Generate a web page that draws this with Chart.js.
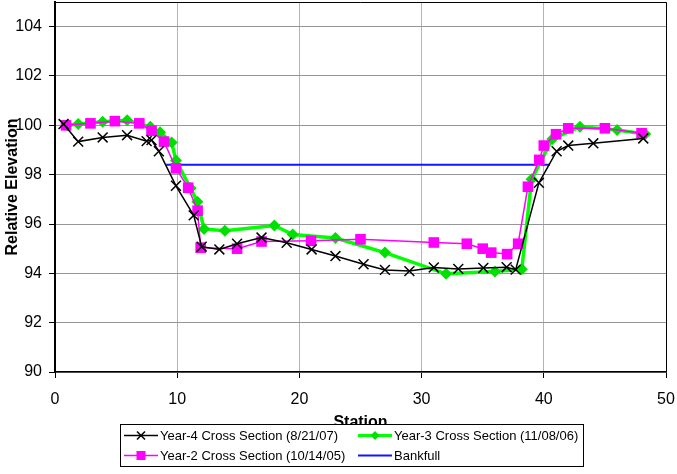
<!DOCTYPE html>
<html><head><meta charset="utf-8">
<script src="https://cdn.jsdelivr.net/npm/chart.js@4.4.0/dist/chart.umd.min.js"></script>
<style>html,body{margin:0;padding:0;background:#fff;}#wrap{position:relative;width:677px;height:474px;}</style>
</head><body><div id="wrap"><canvas id="c" width="677" height="474"></canvas></div>
<script>
// ---- data ----
const year4Station = [0.7, 1.9, 3.9, 5.9, 7.5, 7.9, 8.5, 9.9, 11.35, 12.0, 13.45, 14.9, 16.9, 18.96, 21.0, 22.95, 25.25, 27.0, 29.0, 31.0, 33.0, 35.05, 36.96, 37.7, 39.6, 41.05, 42.0, 44.05, 48.14];
const year4Elev    = [100.05, 99.34, 99.51, 99.6, 99.36, 99.4, 98.95, 97.55, 96.35, 95.08, 94.97, 95.2, 95.45, 95.24, 94.97, 94.7, 94.37, 94.14, 94.09, 94.24, 94.18, 94.22, 94.25, 94.15, 97.67, 98.95, 99.18, 99.27, 99.47];

const year3Station = [1.0, 1.9, 3.9, 5.9, 7.8, 8.6, 9.55, 9.9, 11.1, 11.65, 12.2, 13.9, 17.95, 19.45, 22.95, 27.0, 32.0, 36.0, 38.2, 39.0, 40.7, 42.96, 46.0, 48.3];
const year3Elev    = [100.0, 100.05, 100.15, 100.21, 99.94, 99.72, 99.3, 98.57, 97.45, 96.9, 95.8, 95.73, 95.94, 95.57, 95.43, 94.84, 93.98, 94.07, 94.17, 97.81, 99.45, 99.94, 99.81, 99.65];

const year2Station = [0.9, 2.9, 4.9, 6.9, 7.9, 8.92, 9.9, 10.9, 11.67, 11.92, 14.9, 16.9, 20.95, 25.0, 31.0, 33.7, 35.0, 35.7, 37.0, 37.9, 38.7, 39.63, 40.0, 41.0, 42.0, 45.0, 48.0];
const year2Elev    = [100.0, 100.08, 100.17, 100.08, 99.78, 99.34, 98.26, 97.47, 96.54, 95.04, 95.0, 95.29, 95.32, 95.38, 95.25, 95.2, 95.0, 94.84, 94.78, 95.2, 97.51, 98.6, 99.18, 99.64, 99.88, 99.88, 99.68];

const bankfullStation = [9.1, 40.5];
const bankfullElev    = [98.4, 98.4];

const seriesNames = ['Year-4 Cross Section (8/21/07)', 'Year-3 Cross Section (11/08/06)', 'Year-2 Cross Section (10/14/05)', 'Bankfull'];
const xAxisTitle = 'Station';
const yAxisTitle = 'Relative Elevation';
const xRange = [0, 50, 10];
const yRange = [90, 105, 2];

const pts = (xs, ys) => xs.map((x, i) => ({x: x, y: ys[i]}));
const FONT = "'Liberation Sans', Arial, sans-serif";

const frame = {
  id: 'frame',
  afterDraw(chart) {
    const ctx = chart.ctx, a = chart.chartArea;
    ctx.save();
    ctx.strokeStyle = '#000'; ctx.lineWidth = 1;
    ctx.beginPath();
    ctx.moveTo(a.left, Math.round(a.top) + 0.5); ctx.lineTo(a.right + 0.5, Math.round(a.top) + 0.5); ctx.lineTo(a.right + 0.5, a.bottom);
    ctx.stroke();
    // legend
    const lx = 120, ly = 424, lw = 463, lh = 42;
    ctx.fillStyle = '#fff'; ctx.fillRect(lx, ly, lw, lh);
    ctx.strokeRect(lx + 0.5, ly + 0.5, lw, lh);
    const pos = [[124, 435.5], [358, 435.5], [124, 455.5], [358, 455.5]];
    chart.data.datasets.forEach((ds, i) => {
      const [x, y] = pos[i];
      ctx.strokeStyle = ds.borderColor; ctx.lineWidth = Math.min(ds.borderWidth, 3);
      ctx.beginPath(); ctx.moveTo(x, y); ctx.lineTo(x + 34, y); ctx.stroke();
      const cx = x + 17;
      ctx.fillStyle = ds.pointBackgroundColor || ds.borderColor;
      ctx.strokeStyle = ds.pointBorderColor || ds.borderColor;
      ctx.lineWidth = 1.5;
      if (ds.pointStyle === 'crossRot') {
        ctx.beginPath(); ctx.moveTo(cx - 4, y - 4); ctx.lineTo(cx + 4, y + 4); ctx.moveTo(cx + 4, y - 4); ctx.lineTo(cx - 4, y + 4); ctx.stroke();
      } else if (ds.pointStyle === 'rectRot') {
        ctx.beginPath(); ctx.moveTo(cx, y - 4.5); ctx.lineTo(cx + 4.5, y); ctx.lineTo(cx, y + 4.5); ctx.lineTo(cx - 4.5, y); ctx.closePath(); ctx.fill();
      } else if (ds.pointStyle === 'rect') {
        ctx.fillRect(cx - 4.5, y - 4.5, 9, 9);
      }
      ctx.fillStyle = '#000'; ctx.font = '13px ' + FONT; ctx.textBaseline = 'middle'; ctx.textAlign = 'left';
      ctx.fillText(ds.label, x + 36, y + 0.5);
    });
    ctx.restore();
  }
};

new Chart(document.getElementById('c'), {
  type: 'scatter',
  data: {
    datasets: [
      {label: seriesNames[0], data: pts(year4Station, year4Elev), showLine: true, borderColor: '#000000', borderWidth: 1.5,
       pointStyle: 'crossRot', pointRadius: 7, pointBorderWidth: 1.5, pointBorderColor: '#000', pointBackgroundColor: '#000', order: 1},
      {label: seriesNames[1], data: pts(year3Station, year3Elev), showLine: true, borderColor: '#00FF00', borderWidth: 3.5,
       pointStyle: 'rectRot', pointRadius: 6, pointBorderWidth: 0, pointBackgroundColor: '#00E000', pointBorderColor: '#00E000', order: 3},
      {label: seriesNames[2], data: pts(year2Station, year2Elev), showLine: true, borderColor: '#FF00FF', borderWidth: 1.5,
       pointStyle: 'rect', pointRadius: 7.5, pointBorderWidth: 0, pointBackgroundColor: '#FF00FF', pointBorderColor: '#FF00FF', order: 2},
      {label: seriesNames[3], data: pts(bankfullStation, bankfullElev), showLine: true, borderColor: '#1414FF', borderWidth: 2,
       pointRadius: 0, order: 4}
    ]
  },
  options: {
    responsive: false, animation: false, devicePixelRatio: 1,
    layout: {autoPadding: false, padding: {top: 2, right: 11, left: 0, bottom: 0}},
    plugins: {legend: {display: false}, tooltip: {enabled: false}},
    elements: {line: {tension: 0}},
    scales: {
      x: {
        type: 'linear', min: xRange[0], max: xRange[1],
        ticks: {stepSize: xRange[2], color: '#000', font: {family: FONT, size: 16}, padding: 12, maxRotation: 0},
        grid: {color: '#b4b4b4', lineWidth: 1, tickLength: 6, tickColor: '#000', tickWidth: 1},
        border: {color: '#000', width: 1.5},
        title: {display: true, text: xAxisTitle, color: '#000', font: {family: FONT, size: 16, weight: 'bold'}, padding: {top: 0, bottom: 42}},
        afterFit(s) { s.height = 102; s.paddingLeft = 0; s.paddingRight = 0; }
      },
      y: {
        type: 'linear', min: yRange[0], max: yRange[1],
        ticks: {stepSize: yRange[2], includeBounds: false, color: '#000', font: {family: FONT, size: 16}, padding: 7},
        grid: {color: '#969696', lineWidth: 1, tickLength: 6, tickColor: '#000', tickWidth: 1},
        border: {color: '#000', width: 2},
        title: {display: true, text: yAxisTitle, color: '#000', font: {family: FONT, size: 16, weight: 'bold'}, padding: {top: 3, bottom: 0}},
        afterFit(s) { s.width = 55; s.paddingTop = 0; s.paddingBottom = 0; }
      }
    }
  },
  plugins: [frame]
});
</script></body></html>
